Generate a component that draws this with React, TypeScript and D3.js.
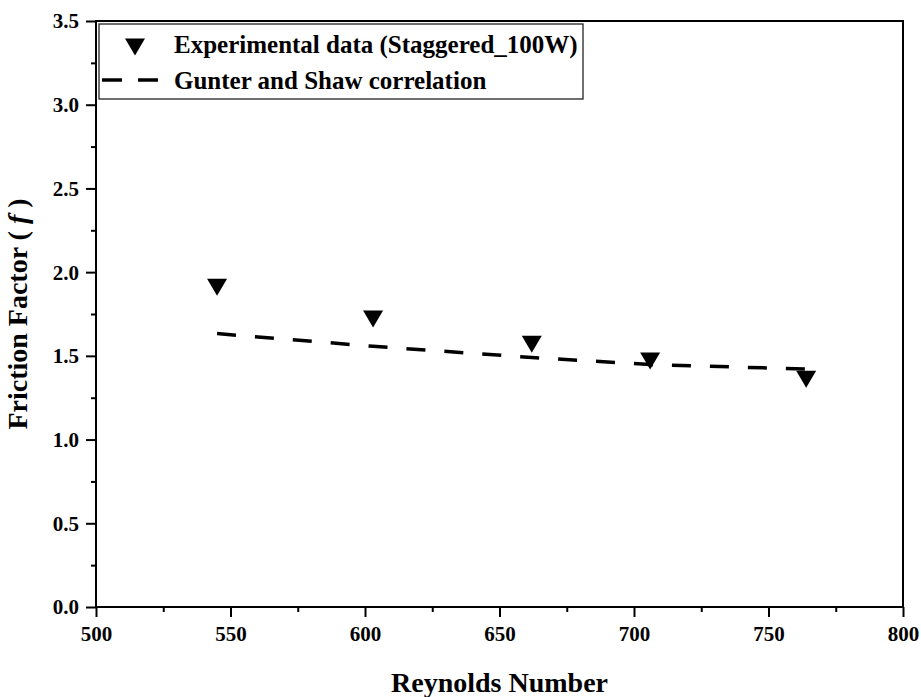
import { useEffect, useRef } from 'react'
import * as d3 from 'd3'

// values
const reynolds = [545, 603, 662, 706, 764]
const frictionExp = [1.91, 1.72, 1.57, 1.47, 1.36]
const frictionCorr = [1.633, 1.557, 1.49, 1.448, 1.421]

const xTicks = [500, 550, 600, 650, 700, 750, 800]
const xMinor = [525, 575, 625, 675, 725, 775]
const yTicks = [0, 0.5, 1.0, 1.5, 2.0, 2.5, 3.0, 3.5]
const yMinor = [0.25, 0.75, 1.25, 1.75, 2.25, 2.75, 3.25]

const legendLabels = ['Experimental data (Staggered_100W)', 'Gunter and Shaw correlation']

const FONT = '"Liberation Serif", "Times New Roman", serif'

export default function App() {
  const svgRef = useRef<SVGSVGElement>(null)

  useEffect(() => {
    if (!svgRef.current) return
    const svg = d3.select(svgRef.current)
    svg.selectAll('*').remove()

    const W = 921
    const H = 697
    const margin = { top: 21, right: 18, bottom: 90, left: 96 }
    const width = W - margin.left - margin.right
    const height = H - margin.top - margin.bottom

    const x = d3.scaleLinear().domain([500, 800]).range([0, width])
    const y = d3.scaleLinear().domain([0, 3.5]).range([height, 0])

    const chart = svg.append('g').attr('transform', `translate(${margin.left},${margin.top})`)

    // minor ticks
    const xm = chart.append('g')
      .attr('transform', `translate(0,${height})`)
      .call(d3.axisBottom(x).tickValues(xMinor).tickSize(5).tickFormat(() => ''))
    const ym = chart.append('g')
      .call(d3.axisLeft(y).tickValues(yMinor).tickSize(5).tickFormat(() => ''))

    // major ticks + labels
    const xa = chart.append('g')
      .attr('transform', `translate(0,${height})`)
      .call(d3.axisBottom(x).tickValues(xTicks).tickSize(10).tickPadding(9).tickFormat(d3.format('d')))
    const ya = chart.append('g')
      .call(d3.axisLeft(y).tickValues(yTicks).tickSize(10).tickPadding(7).tickFormat(d3.format('.1f')))

    ;[xm, ym, xa, ya].forEach(g => {
      g.select('.domain').remove()
      g.selectAll('line').attr('stroke', '#000').attr('stroke-width', 2)
    })
    ;[xa, ya].forEach(g => {
      g.attr('font-family', FONT).attr('font-size', 21).attr('font-weight', 'bold')
      g.selectAll('text').attr('fill', '#000')
    })
    ya.selectAll('text').attr('dy', '0.33em')
    xa.selectAll('text').attr('dy', '0.71em')

    // frame
    chart.append('rect')
      .attr('x', 0).attr('y', 0)
      .attr('width', width).attr('height', height)
      .attr('fill', 'none')
      .attr('stroke', '#000')
      .attr('stroke-width', 2)

    // correlation line
    const line = d3.line<number>()
      .x((d, i) => x(reynolds[i]))
      .y(d => y(d))
    chart.append('path')
      .datum(frictionCorr)
      .attr('fill', 'none')
      .attr('stroke', '#000')
      .attr('stroke-width', 3.5)
      .attr('stroke-dasharray', '19,19')
      .attr('d', line)

    // experimental points (down triangles)
    const tri = 'M-10,-8.5L10,-8.5L0,8.5Z'
    chart.selectAll('.pt')
      .data(frictionExp)
      .join('path')
      .attr('class', 'pt')
      .attr('transform', (d, i) => `translate(${x(reynolds[i])},${y(d)})`)
      .attr('d', tri)
      .attr('fill', '#000')

    // legend
    const lg = svg.append('g')
    lg.append('rect')
      .attr('x', 99).attr('y', 24)
      .attr('width', 484).attr('height', 75)
      .attr('fill', '#fff')
      .attr('stroke', '#222')
      .attr('stroke-width', 1.3)
    lg.append('path')
      .attr('transform', 'translate(135,47)')
      .attr('d', tri)
      .attr('fill', '#000')
    lg.append('line')
      .attr('x1', 102).attr('x2', 158)
      .attr('y1', 80).attr('y2', 80)
      .attr('stroke', '#000')
      .attr('stroke-width', 3.5)
      .attr('stroke-dasharray', '20,16')
    lg.selectAll('.lt')
      .data(legendLabels)
      .join('text')
      .attr('class', 'lt')
      .attr('x', 174)
      .attr('y', (d, i) => 53 + i * 35.5)
      .attr('font-family', FONT)
      .attr('font-size', 25)
      .attr('font-weight', 'bold')
      .attr('fill', '#000')
      .text(d => d)

    // axis titles
    svg.append('text')
      .attr('x', margin.left + width / 2)
      .attr('y', 692)
      .attr('text-anchor', 'middle')
      .attr('font-family', FONT)
      .attr('font-size', 28)
      .attr('font-weight', 'bold')
      .text('Reynolds Number')

    const yt = svg.append('text')
      .attr('transform', 'translate(27,314) rotate(-90)')
      .attr('text-anchor', 'middle')
      .attr('font-family', FONT)
      .attr('font-size', 28)
      .attr('font-weight', 'bold')
    yt.append('tspan').text('Friction Factor ( ')
    yt.append('tspan').attr('font-style', 'italic').text('f')
    yt.append('tspan').text(' )')
  }, [])

  return (
    <svg
      ref={svgRef}
      width={921}
      height={697}
      style={{ position: 'absolute', left: 0, top: 0, background: '#fff' }}
    />
  )
}
